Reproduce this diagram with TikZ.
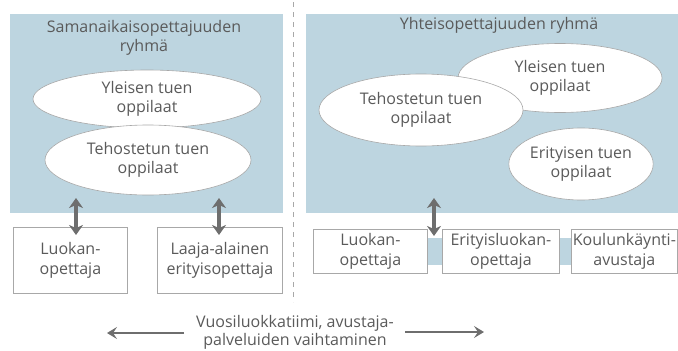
\documentclass[tikz,border=0pt]{standalone}
\usepackage{fontspec}
\setmainfont{Open Sans}
\usetikzlibrary{shapes.geometric,arrows.meta}
\definecolor{panelblue}{HTML}{BDD5E0}
\definecolor{txtgrey}{HTML}{5A5A5A}
\definecolor{linegrey}{HTML}{A8A8A8}
\definecolor{arrgrey}{HTML}{6E6E6E}
\tikzset{
  panel/.style={fill=panelblue, draw=none},
  ell/.style={ellipse, draw=linegrey, line width=0.6pt, fill=white, inner sep=0pt, align=center, text=txtgrey},
  pbox/.style={rectangle, draw=linegrey, line width=0.8pt, fill=white, inner sep=0pt, align=center, text=txtgrey, anchor=north west},
  lbl/.style={text=txtgrey, align=center, inner sep=0pt},
  dbl/.style={arrgrey, line width=4.4pt, {Stealth[length=10pt,width=14pt,inset=3pt]}-{Stealth[length=10pt,width=14pt,inset=3pt]}},
  sgl/.style={arrgrey, line width=2.8pt, -{Stealth[length=10pt,width=12pt,inset=4pt]}},
}
\begin{document}
\begin{tikzpicture}[x=1pt,y=-1pt, font=\fontsize{16}{19.5}\selectfont]
\useasboundingbox (0,0) rectangle (678,351);
% panels
\fill[panel] (10,14) rectangle (283,213);
\fill[panel] (306,14) rectangle (678,213);
% dashed divider
\draw[linegrey, line width=0.8pt, dash pattern=on 5pt off 5pt] (293,2) -- (293,302);
% titles
\node[lbl] (t1) at (144,38) {Samanaikaisopettajuuden\\ryhmä};
\node[lbl] (t2) at (499,25) {Yhteisopettajuuden ryhmä};
% left ellipses
\node[ell, minimum width=228pt, minimum height=58pt] (ly) at (147,99) {Yleisen tuen\\oppilaat};
\node[ell, minimum width=206pt, minimum height=70pt] (lt) at (148,160) {Tehostetun tuen\\oppilaat};
% right ellipses
\node[ell, minimum width=204pt, minimum height=69pt] (ry) at (560,78) {Yleisen tuen\\oppilaat};
\node[ell, minimum width=204pt, minimum height=72pt] (rt) at (421,110) {Tehostetun tuen\\oppilaat};
\node[ell, minimum width=142pt, minimum height=72pt] (re) at (581,164) {Erityisen tuen\\oppilaat};
% strip behind right boxes
\fill[panel] (420,238) rectangle (578,265);
% boxes
\node[pbox, minimum width=114pt, minimum height=66pt] (b1) at (13,227) {Luokan-\\opettaja};
\node[pbox, minimum width=125pt, minimum height=66pt] (b2) at (157,227) {Laaja-alainen\\erityisopettaja};
\node[pbox, minimum width=114pt, minimum height=44pt] (b3) at (313,229) {Luokan-\\opettaja};
\node[pbox, minimum width=117pt, minimum height=44pt] (b4) at (442,229) {Erityisluokan-\\opettaja};
\node[pbox, minimum width=106pt, minimum height=44pt] (b5) at (571,229) {Koulunkäynti-\\avustaja};
% double arrows
\coordinate (a1t) at (76,198);
\coordinate (a1b) at (76,235);
\coordinate (a2t) at (219,198);
\coordinate (a2b) at (219,235);
\coordinate (a3t) at (434,198);
\coordinate (a3b) at (434,236);
\draw[dbl] (a1t) -- (a1b);
\draw[dbl] (a2t) -- (a2b);
\draw[dbl] (a3t) -- (a3b);
% bottom text and arrows
\node[lbl, font=\fontsize{16}{18}\selectfont] (bt) at (295,332) {Vuosiluokkatiimi, avustaja-\\palveluiden vaihtaminen};
\coordinate (la) at (107,333);
\coordinate (ra) at (484,332);
\coordinate (ls) at (184,333);
\coordinate (rs) at (405,332);
\draw[sgl] (ls) -- (la);
\draw[sgl] (rs) -- (ra);
\end{tikzpicture}
\end{document}
